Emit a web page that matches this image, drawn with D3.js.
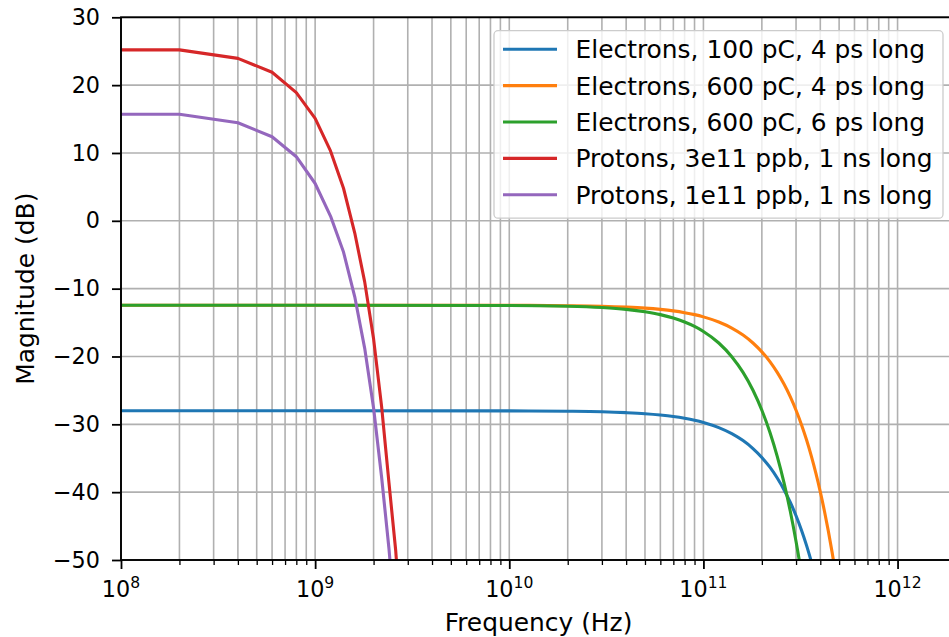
<!DOCTYPE html>
<html>
<head>
<meta charset="utf-8">
<script src="https://cdn.jsdelivr.net/npm/d3@7"></script>
<style>
  html, body { margin: 0; padding: 0; background: #fff; }
  svg { display: block; font-family: "DejaVu Sans", sans-serif; }
</style>
</head>
<body>
<svg id="chart" width="949" height="637"></svg>
<script>
// ---------------- data ----------------
const seriesLabels = [
  "Electrons, 100 pC, 4 ps long",
  "Electrons, 600 pC, 4 ps long",
  "Electrons, 600 pC, 6 ps long",
  "Protons, 3e11 ppb, 1 ns long",
  "Protons, 1e11 ppb, 1 ns long"
];
const seriesColors = ["#1f77b4", "#ff7f0e", "#2ca02c", "#d62728", "#9467bd"];

const freqElectron = [1e8, 1e9, 1e10, 2e10, 3e10, 4e10, 5e10, 6e10, 7e10, 8e10, 9e10,
  1e11, 1.2e11, 1.4e11, 1.6e11, 1.8e11, 2e11, 2.2e11, 2.4e11, 2.6e11, 2.8e11, 3e11,
  3.2e11, 3.4e11, 3.6e11, 3.8e11, 4e11, 4.2e11, 4.4e11, 4.6e11, 4.8e11];
const electrons100pC4ps = [-28.00, -28.00, -28.02, -28.07, -28.15, -28.28, -28.43, -28.62, -28.84, -29.10, -29.39,
  -29.72, -30.48, -31.37, -32.40, -33.57, -34.88, -36.32, -37.91, -39.63, -41.48, -43.48,
  -45.61, -47.88, -50.29, -52.84, -55.52, -58.34, -61.30, -64.40, -67.63];
const electrons600pC4ps = [-12.44, -12.44, -12.46, -12.51, -12.59, -12.72, -12.87, -13.06, -13.28, -13.54, -13.83,
  -14.16, -14.92, -15.81, -16.84, -18.01, -19.32, -20.76, -22.35, -24.07, -25.92, -27.92,
  -30.05, -32.32, -34.73, -37.28, -39.96, -42.78, -45.74, -48.84, -52.07];
const electrons600pC6ps = [-12.44, -12.44, -12.48, -12.59, -12.79, -13.06, -13.41, -13.83, -14.34, -14.92, -15.57,
  -16.31, -18.01, -20.03, -22.35, -24.98, -27.92, -31.17, -34.73, -38.60, -42.78, -47.27,
  -52.07, -57.18, -62.60, -68.32, -74.36, -80.71, -87.36, -94.33, -101.6];

const freqProton = [1e8, 2e8, 4e8, 6e8, 8e8, 1e9, 1.2e9, 1.4e9, 1.6e9, 1.8e9, 2.0e9, 2.2e9, 2.4e9, 2.6e9, 2.8e9];
const protons3e11 = [25.2, 25.2, 23.95, 21.9, 18.9, 15.1, 10.3, 4.8, -1.8, -9.0, -17.4, -27.4, -38.6, -48.6, -61.5];
const protons1e11 = [15.7, 15.7, 14.45, 12.4, 9.45, 5.5, 0.7, -4.6, -11.2, -18.8, -27.6, -37.8, -48.3, -60.0, -73.0];

const yTicks = [-50, -40, -30, -20, -10, 0, 10, 20, 30];
const xMajorExponents = [8, 9, 10, 11, 12];
const xDomain = [1e8, 2e12];
const yDomain = [-50, 30];
const xLabel = "Frequency (Hz)";
const yLabel = "Magnitude (dB)";

// ---------------- layout ----------------
const svg = d3.select("#chart");
const plot = { left: 121, right: 956, top: 17.3, bottom: 560 };

const x = d3.scaleLog().domain(xDomain).range([plot.left, plot.right]);
const y = d3.scaleLinear().domain(yDomain).range([plot.bottom, plot.top]);

const xMajor = xMajorExponents.map(e => Math.pow(10, e));
const xMinor = [];
for (let e = 8; e <= 12; e++) {
  for (let m = 2; m <= 9; m++) {
    const v = m * Math.pow(10, e);
    if (v < xDomain[1]) xMinor.push(v);
  }
}

svg.append("defs").append("clipPath").attr("id", "plotclip")
  .append("rect")
  .attr("x", plot.left).attr("y", plot.top)
  .attr("width", plot.right - plot.left).attr("height", plot.bottom - plot.top);

// grid
const grid = svg.append("g").attr("stroke", "#b0b0b0").attr("stroke-width", 1.6);
grid.selectAll("line.gx").data(xMajor.concat(xMinor)).join("line")
  .attr("x1", d => x(d)).attr("x2", d => x(d))
  .attr("y1", plot.top).attr("y2", plot.bottom);
grid.selectAll("line.gy").data(yTicks).join("line")
  .attr("x1", plot.left).attr("x2", plot.right)
  .attr("y1", d => y(d)).attr("y2", d => y(d));

// lines
const series = [
  { freq: freqElectron, vals: electrons100pC4ps, curve: d3.curveMonotoneX },
  { freq: freqElectron, vals: electrons600pC4ps, curve: d3.curveMonotoneX },
  { freq: freqElectron, vals: electrons600pC6ps, curve: d3.curveMonotoneX },
  { freq: freqProton, vals: protons3e11, curve: d3.curveLinear },
  { freq: freqProton, vals: protons1e11, curve: d3.curveLinear }
];
const linesG = svg.append("g").attr("clip-path", "url(#plotclip)");
series.forEach((s, i) => {
  const pts = s.freq.map((f, j) => [f, s.vals[j]]);
  const line = d3.line().x(d => x(d[0])).y(d => y(d[1])).curve(s.curve);
  linesG.append("path")
    .attr("d", line(pts))
    .attr("fill", "none")
    .attr("stroke", seriesColors[i])
    .attr("stroke-width", 3.1)
    .attr("stroke-linejoin", "round")
    .attr("stroke-linecap", "butt");
});

// axes
const tickFont = 22.3;
const yAxis = d3.axisLeft(y).tickValues(yTicks).tickSize(9).tickPadding(12);
const yG = svg.append("g").attr("transform", `translate(${plot.left},0)`).call(yAxis);
yG.select(".domain").remove();
yG.selectAll(".tick line").attr("stroke", "#000").attr("stroke-width", 1.8);
yG.selectAll(".tick text").attr("font-size", tickFont).attr("fill", "#000")
  .attr("font-family", "DejaVu Sans");

const xAxisMajor = d3.axisBottom(x).tickValues(xMajor).tickSize(9).tickFormat("");
const xG = svg.append("g").attr("transform", `translate(0,${plot.bottom})`).call(xAxisMajor);
xG.select(".domain").remove();
xG.selectAll(".tick line").attr("stroke", "#000").attr("stroke-width", 1.8);
const xAxisMinor = d3.axisBottom(x).tickValues(xMinor).tickSize(5).tickFormat("");
const xGm = svg.append("g").attr("transform", `translate(0,${plot.bottom})`).call(xAxisMinor);
xGm.select(".domain").remove();
xGm.selectAll(".tick line").attr("stroke", "#000").attr("stroke-width", 1.3);

// x tick labels 10^n
xMajorExponents.forEach(e => {
  const t = svg.append("text")
    .attr("x", x(Math.pow(10, e)))
    .attr("y", 597)
    .attr("text-anchor", "middle")
    .attr("font-size", tickFont)
    .attr("fill", "#000");
  t.append("tspan").text("10");
  t.append("tspan").attr("dy", -9.5).attr("font-size", 15.6).text(String(e));
});

// spines
svg.append("rect")
  .attr("x", plot.left).attr("y", plot.top)
  .attr("width", plot.right - plot.left).attr("height", plot.bottom - plot.top)
  .attr("fill", "none").attr("stroke", "#000").attr("stroke-width", 1.9);

// axis labels
svg.append("text")
  .attr("x", (plot.left + plot.right) / 2)
  .attr("y", 631)
  .attr("text-anchor", "middle")
  .attr("font-size", 24.9)
  .attr("fill", "#000")
  .text(xLabel);
svg.append("text")
  .attr("transform", `translate(34,${(plot.top + plot.bottom) / 2}) rotate(-90)`)
  .attr("text-anchor", "middle")
  .attr("font-size", 24.9)
  .attr("fill", "#000")
  .text(yLabel);

// legend
const leg = svg.append("g");
leg.append("rect")
  .attr("x", 494).attr("y", 30.7).attr("width", 449).attr("height", 187.5)
  .attr("rx", 4).attr("ry", 4)
  .attr("fill", "#fff").attr("fill-opacity", 0.8)
  .attr("stroke", "#cccccc").attr("stroke-width", 1.3);
seriesLabels.forEach((lab, i) => {
  const yy = 49.3 + i * 36.35;
  leg.append("line")
    .attr("x1", 503).attr("x2", 557)
    .attr("y1", yy).attr("y2", yy)
    .attr("stroke", seriesColors[i]).attr("stroke-width", 3.1);
  leg.append("text")
    .attr("x", 575.5).attr("y", yy + 9.0)
    .attr("font-size", 24.9)
    .attr("fill", "#000")
    .text(lab);
});
</script>
</body>
</html>
